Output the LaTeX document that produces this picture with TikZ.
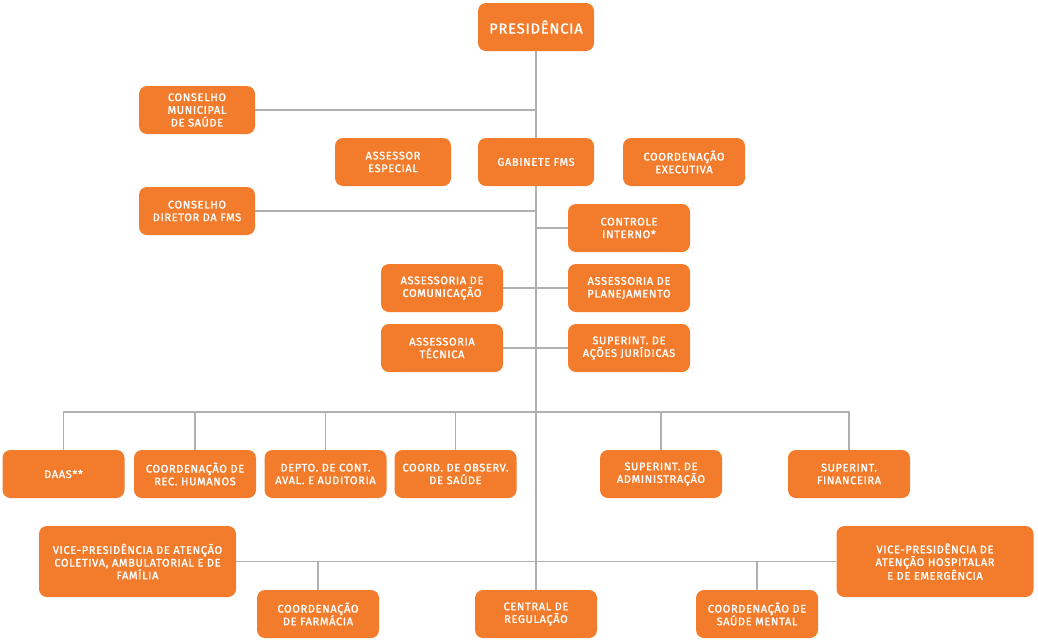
\documentclass[tikz,border=0pt]{standalone}
\usepackage{fontspec}
\usepackage{tikz}
\usetikzlibrary{calc,positioning}
\usepackage{xcolor}
\newfontfamily\boxfont{Fira Sans}[LetterSpace=6, FakeBold=1.5]
\definecolor{fmsorange}{HTML}{F37C2C}
\definecolor{fmsgray}{HTML}{B0B0B0}

\begin{document}
\begin{tikzpicture}[x=1pt,y=-1pt,
  unit/.style={fill=fmsorange, text=white, rounded corners=8pt, inner sep=0pt,
    minimum width=122pt, minimum height=48pt, align=center,
    font=\boxfont\fontsize{11}{12.7}\selectfont},
  vice/.style={unit, minimum width=197pt, minimum height=71pt},
  link/.style={draw=fmsgray, line width=1.3pt}]
\useasboundingbox (0,0) rectangle (1038,643);

% Top of the chart
\node[unit, minimum width=116pt, font=\boxfont\fontsize{14.5}{16}\selectfont] (pres) at (536,27) {PRESIDÊNCIA};
\node[unit, minimum width=116pt] (cms) at (197,110) {CONSELHO\\MUNICIPAL\\DE SAÚDE};
\node[unit, minimum width=116pt] (ae) at (393,162) {ASSESSOR\\ESPECIAL};
\node[unit, minimum width=116pt] (gab) at (536,162) {GABINETE FMS};
\node[unit] (ce) at (684,162) {COORDENAÇÃO\\EXECUTIVA};
\node[unit, minimum width=116pt] (cdf) at (197,211) {CONSELHO\\DIRETOR DA FMS};
\node[unit] (ci) at (629,228) {CONTROLE\\INTERNO*};
\node[unit] (com) at (442,288) {ASSESSORIA DE\\COMUNICAÇÃO};
\node[unit] (plan) at (629,288) {ASSESSORIA DE\\PLANEJAMENTO};
\node[unit] (tec) at (442,348) {ASSESSORIA\\TÉCNICA};
\node[unit] (jur) at (629,348) {SUPERINT. DE\\AÇÕES JURÍDICAS};

% Row under the bus
\foreach \n/\x/\t in {daas/63.5/{DAAS**}, rh/195/{COORDENAÇÃO DE\\REC. HUMANOS},
    depto/325.5/{DEPTO. DE CONT.\\AVAL. E AUDITORIA}, obs/455.5/{COORD. DE OBSERV.\\DE SAÚDE},
    adm/661/{SUPERINT. DE\\ADMINISTRAÇÃO}, fin/849/{SUPERINT.\\FINANCEIRA}} {
    \node[unit] (\n) at (\x,474) {\t};
}

% Bottom of the chart
\node[vice] (vpc) at (137.5,561.5) {VICE-PRESIDÊNCIA DE ATENÇÃO\\COLETIVA, AMBULATORIAL E DE\\FAMÍLIA};
\node[vice] (vph) at (935,561.5) {VICE-PRESIDÊNCIA DE\\ATENÇÃO HOSPITALAR\\E DE EMERGÊNCIA};
\node[unit] (farm) at (318,614) {COORDENAÇÃO\\DE FARMÁCIA};
\node[unit] (central) at (536,614) {CENTRAL DE\\REGULAÇÃO};
\node[unit] (mental) at (757,614) {COORDENAÇÃO DE\\SAÚDE MENTAL};

% Trunk
\draw[link] (pres) -- (gab);
\draw[link] (gab) -- (central);
\coordinate (bus) at (536,412);

% Side branches
\draw[link] (cms.east) -- (cms.east -| gab.north);
\draw[link] (cdf.east) -- (cdf.east -| gab.south);
\draw[link] (ci.west) -- (ci.west -| gab.south);
\draw[link] (com.east) -- (plan.west);
\draw[link] (tec.east) -- (jur.west);

% Bus with drops
\draw[link] (daas.north) |- (fin.north |- bus) -- (fin.north);
\foreach \n in {rh,depto,obs,adm}
    \draw[link] (\n.north) -- (\n.north |- bus);

% Vice-presidencies
\draw[link] (vpc.east) -- (vph.west);
\draw[link] (farm.north) -- (farm.north |- vpc.east);
\draw[link] (mental.north) -- (mental.north |- vph.west);
\end{tikzpicture}
\end{document}
